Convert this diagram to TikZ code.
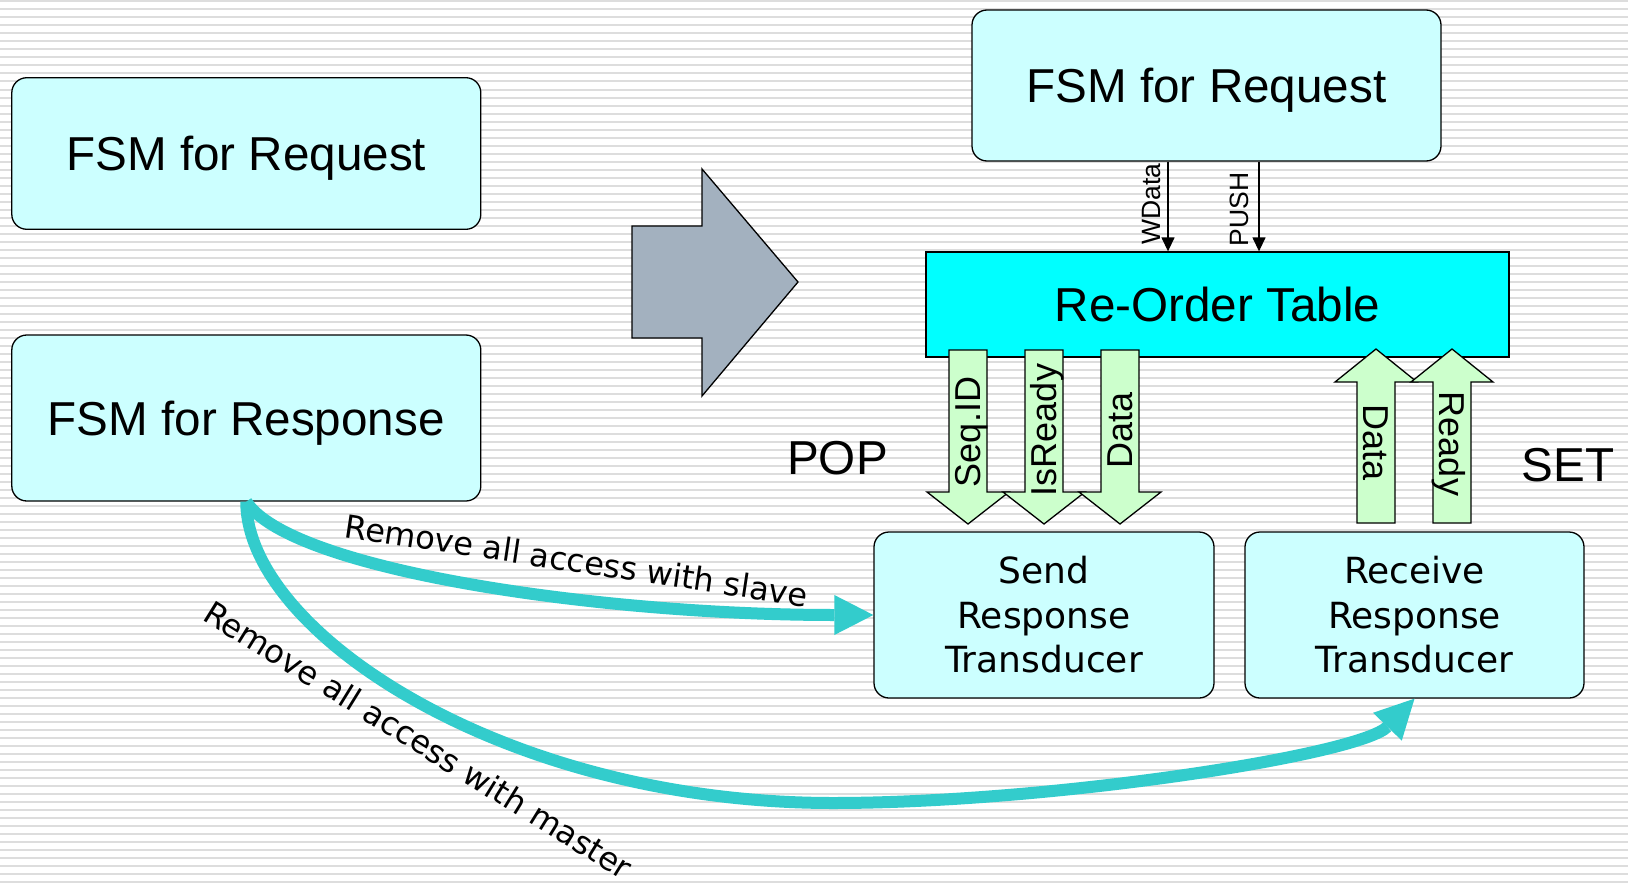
\documentclass[tikz,border=0pt]{standalone}
\usepackage{fontspec}
\setmainfont{Liberation Sans}
\newfontfamily\tahomalike{DejaVu Sans}
\usetikzlibrary{arrows.meta}

\definecolor{boxfill}{HTML}{CCFFFF}
\definecolor{tablefill}{HTML}{00FFFF}
\definecolor{greenfill}{HTML}{CCFFCC}
\definecolor{grayarrow}{HTML}{A3B1BF}
\definecolor{flowcol}{HTML}{33CCCC}
\definecolor{stripecol}{HTML}{DDDDDD}

\begin{document}
\begin{tikzpicture}[x=1pt, y=-1pt,
  stripe/.style={draw=stripecol, line width=2pt},
  fsm/.style={draw=black, line width=1.3pt, fill=boxfill, rounded corners=15pt,
    inner sep=0pt, font=\fontsize{47.6}{57}\selectfont, text height=34pt, text depth=0pt},
  table/.style={draw=black, line width=1.3pt, fill=tablefill, inner sep=0pt,
    font=\fontsize{47.6}{57}\selectfont, text height=34pt, text depth=0pt},
  transducer/.style={draw=black, line width=1.3pt, fill=boxfill, rounded corners=15pt,
    inner sep=0pt, align=center, font=\tahomalike\fontsize{36}{44.5}\selectfont},
  bigtxt/.style={inner sep=0pt, font=\fontsize{47.6}{57}\selectfont, text height=34pt, text depth=0pt},
  blk/.style={draw=black, line width=1.3pt, fill=greenfill, line join=miter},
  blklbl/.style={inner sep=0pt, font=\fontsize{36}{43}\selectfont, text height=25.8pt, text depth=0pt},
  siglbl/.style={inner sep=0pt, font=\fontsize{26.5}{32}\selectfont, text height=19pt, text depth=0pt},
  sig/.style={draw=black, line width=1.3pt, -{Triangle[length=14pt,width=13pt]}},
  flow/.style={draw=flowcol, line width=12pt, -{Triangle[length=39pt,width=40pt,line width=0pt]}},
  flowlbl/.style={inner sep=0pt, anchor=base, font=\tahomalike\fontsize{32}{38}\selectfont},
  blockarrow/.style={draw=black, line width=1.3pt, fill=grayarrow, line join=miter}
]
\useasboundingbox (0,0) rectangle (1628,883);
\fill[white] (0,0) rectangle (1628,883);

% striped background
\foreach \k in {0,...,110}
  \draw[stripe] (0,{8*\k+1.5}) -- (1628,{8*\k+1.5});

% left side: the two original state machines
\node[fsm, minimum width=469pt, minimum height=151.6pt] (reqL) at (246.3,153.5) {FSM for Request};
\node[fsm, minimum width=469pt, minimum height=166pt] (respL) at (246.3,418) {FSM for Response};

% transformation arrow
\draw[blockarrow] (632,226) -- (702,226) -- (702,169) -- (798,282) -- (702,396)
  -- (702,338) -- (632,338) -- cycle;

% right side
\node[fsm, minimum width=469pt, minimum height=151pt] (reqR) at (1206.5,85.5) {FSM for Request};
\node[table, minimum width=583pt, minimum height=105pt] (rot) at (1217.5,304.5) {Re-Order Table};
\node[transducer, minimum width=340pt, minimum height=166pt] (send) at (1044,615)
  {Send\\Response\\Transducer};
\node[transducer, minimum width=339pt, minimum height=166pt] (recv) at (1414.5,615)
  {Receive\\Response\\Transducer};

% request signals into the table
\coordinate (wdx) at (1168,0);
\coordinate (psx) at (1259,0);
\draw[sig] (reqR.south -| wdx) -- (rot.north -| wdx);
\draw[sig] (reqR.south -| psx) -- (rot.north -| psx);
\node[siglbl, rotate=90] (wdata) at (1150.5,204) {WData};
\node[siglbl, rotate=90] (push) at (1238.5,209.5) {PUSH};

% POP side: table to sender
\foreach \cx/\nm/\lbl/\ty in {968/seqid/Seq.ID/432, 1044/isready/IsReady/430, 1120/dataD/Data/430.5} {
  \draw[blk] (\cx-19,350) -- (\cx+19,350) -- (\cx+19,492) -- (\cx+41,492) -- (\cx,524)
    -- (\cx-41,492) -- (\cx-19,492) -- cycle;
  \node[blklbl, rotate=90] (\nm) at (\cx,\ty) {\lbl};
}

% SET side: receiver to table
\foreach \cx/\nm/\lbl/\ty in {1376/dataU/Data/442.5, 1452/ready/Ready/444} {
  \draw[blk] (\cx-19,523) -- (\cx-19,382) -- (\cx-41,382) -- (\cx,349) -- (\cx+41,382)
    -- (\cx+19,382) -- (\cx+19,523) -- cycle;
  \node[blklbl, rotate=-90] (\nm) at (\cx,\ty) {\lbl};
}

\node[bigtxt] (pop) at (837.5,457) {POP};
\node[bigtxt] (set) at (1568,464.5) {SET};

% responsibilities moved out of the response FSM
\coordinate (low) at (833,803);
\draw[flow] (respL.south) .. controls (290,570) and (600,615) .. (send.west);
\draw[flow] (respL.south) .. controls (246,631) and (503,803) .. (low)
  .. controls (1050,803) and (1360,755) .. (recv.south);

\node[flowlbl, rotate=-8.6] (slavelbl) at (574.5,572) {Remove all access with slave};
\node[flowlbl, rotate=-31.8] (masterlbl) at (412,750) {Remove all access with master};
\end{tikzpicture}
\end{document}
